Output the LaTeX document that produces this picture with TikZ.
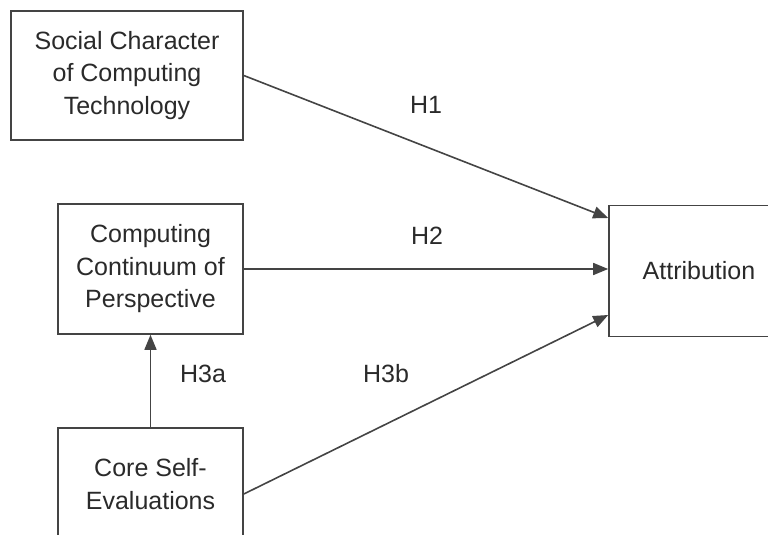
\documentclass[tikz,border=0pt]{standalone}
\usepackage{fontspec}
\setmainfont{Liberation Sans}
\usetikzlibrary{arrows.meta}
\definecolor{linec}{HTML}{444444}
\definecolor{textc}{HTML}{2A2A2A}
\begin{document}
\begin{tikzpicture}[x=1pt,y=-1pt,
  box/.style={draw=linec, line width=1.6pt, align=center, text=textc, inner sep=0pt,
    font=\fontsize{25}{32.5}\selectfont},
  conn/.style={draw=linec, line width=1.6pt, -{Triangle[length=15pt,width=12pt]}},
  lbl/.style={text=textc, font=\fontsize{25}{30}\selectfont, inner sep=0pt}]
\useasboundingbox (0,0) rectangle (768,535);
\begin{scope}
\clip (0,0) rectangle (768,535);
\node[box, minimum width=232pt, minimum height=129pt] (social) at (127,75.5) {Social Character\\of Computing\\Technology};
\node[box, minimum width=185pt, minimum height=130pt] (persp) at (150.5,269) {Computing\\Continuum of\\Perspective};
\node[box, minimum width=185pt, minimum height=132pt, text height=0pt] (core) at (150.5,494) {};
\node[text=textc, align=center, font=\fontsize{25}{32.5}\selectfont, inner sep=0pt] (coretext) at (150.5,484) {Core Self-\\Evaluations};
\node[box, minimum width=180pt, minimum height=131pt] (attr) at (699,271) {Attribution};
\draw[conn] (social.east) -- ([yshift=53pt]attr.west);
\draw[conn] (persp.east) -- (persp.east -| attr.west);
\draw[conn] (core.east) -- ([yshift=-44pt]attr.west);
\draw[conn] (core.north) -- (persp.south);
\node[lbl] (h1) at (426,105) {H1};
\node[lbl] (h2) at (427,236) {H2};
\node[lbl] (h3a) at (203,374) {H3a};
\node[lbl] (h3b) at (386,374) {H3b};
\end{scope}
\end{tikzpicture}
\end{document}
